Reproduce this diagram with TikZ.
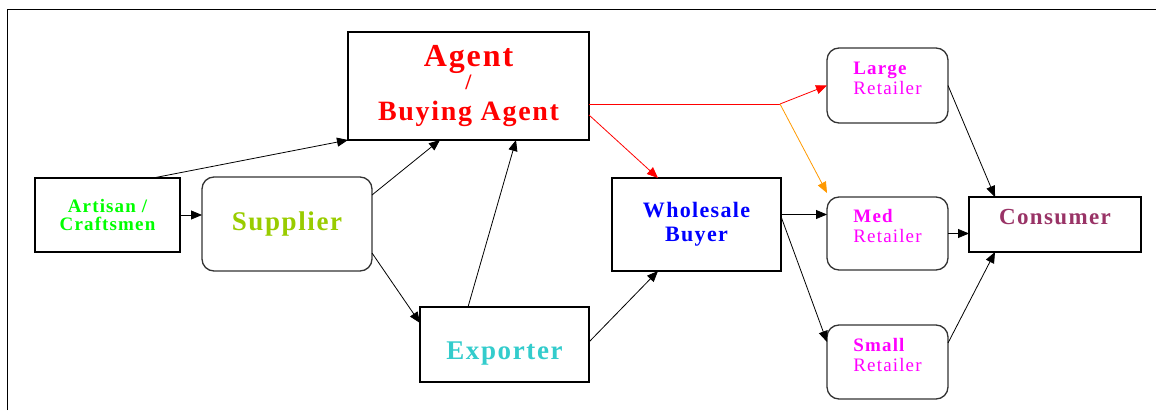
\documentclass[tikz,border=0pt]{standalone}
\usepackage{fontspec}
\setmainfont{Liberation Serif}
\newfontfamily\spaced[LetterSpace=6]{Liberation Serif}
\usetikzlibrary{arrows.meta}
\definecolor{artisangreen}{HTML}{00FF00}
\definecolor{suppliergreen}{HTML}{99CC00}
\definecolor{exportercyan}{HTML}{33CCCC}
\definecolor{retailpink}{HTML}{FF00FF}
\definecolor{consumerplum}{HTML}{993366}
\definecolor{splitorange}{HTML}{FF9900}
\tikzset{
  plainbox/.style={draw, line width=1.3pt, inner sep=0pt, outer sep=0pt, align=center},
  roundbox/.style={plainbox, draw=black!80, rounded corners=12pt},
  retailbox/.style={roundbox, minimum width=121, minimum height=74, text=retailpink, align=left,
    font=\spaced\fsz{19}{20}, text depth=15pt},
  flow/.style={-{Triangle[length=11pt,width=9pt]}, line width=0.8pt},
}
\newcommand{\fsz}[2]{\fontsize{#1}{#2}\selectfont}
\begin{document}
\begin{tikzpicture}[x=1pt,y=1pt]
\useasboundingbox (0,0) rectangle (1156,410);
\draw[line width=1pt] (7,0) -- (7,400) -- (1156,400);
\begin{scope}
\node[plainbox, line width=2pt, minimum width=241, minimum height=108, text=red, font=\spaced\bfseries] (agent) at (468.5,324)
  {\fsz{32}{25}Agent\\\fsz{22}{25}/\\[10pt]\fsz{28}{25}Buying Agent};
\node[plainbox, minimum width=145, minimum height=74, text=artisangreen, font=\spaced\fsz{19}{18}\bfseries] (artisan) at (107.5,195)
  {Artisan /\\Craftsmen};
\node[roundbox, minimum width=170, minimum height=94, text=suppliergreen, font=\spaced\fsz{27}{27}\bfseries] (supplier) at (287,186) {Supplier};
\node[plainbox, minimum width=169, minimum height=75, text=exportercyan, font=\spaced\fsz{27}{27}\bfseries, text height=29pt, text depth=0pt] (exporter) at (504.5,65.5) {Exporter};
\node[plainbox, minimum width=169, minimum height=93, text=blue, font=\spaced\fsz{22}{24}\bfseries] (wholesale) at (696.5,185.5)
  {Wholesale\\Buyer};
\node[retailbox, minimum height=75] (large) at (887.5,324.5) {\bfseries Large\\Retailer};
\node[retailbox, minimum height=73] (med) at (887.5,176.5) {\bfseries Med\\Retailer};
\node[retailbox] (small) at (887.5,48) {\bfseries Small\\Retailer};
\node[plainbox, minimum width=172, minimum height=55, text=consumerplum, font=\spaced\fsz{23}{23}\bfseries, text height=16pt, text depth=16pt] (consumer) at (1055,185.5) {Consumer};
\end{scope}
\begin{scope}
\coordinate (split) at (780,306);
\draw[flow] ([xshift=-27]artisan.north east) -- (agent.south west);
\draw[flow] (artisan.east) -- (artisan.east -| supplier.west);
\draw[flow] ([yshift=-18]supplier.north east) -- ([xshift=92]agent.south west);
\draw[flow] ([yshift=18]supplier.south east) -- ([yshift=-16]exporter.north west);
\draw[flow] ([xshift=48]exporter.north west) -- ([xshift=168]agent.south west);
\draw[flow] ([yshift=-35]exporter.north east) -- ([xshift=46]wholesale.south west);
\draw[flow, red] ([yshift=25]agent.south east) -- ([xshift=46]wholesale.north west);
\draw[red, line width=0.8pt] ([yshift=36]agent.south east) -- (split);
\draw[flow, red] (split) -- (large.west);
\draw[flow, splitorange] (split) -- ([yshift=4]med.north west);
\draw[flow] ([yshift=10]wholesale.east) -- ([yshift=10]wholesale.east -| med.west);
\draw[flow] ([yshift=8]wholesale.east) -- ([yshift=-17]small.north west);
\draw[flow] (large.east) -- ([xshift=26]consumer.north west);
\draw[flow] (med.east) -- (med.east -| consumer.west);
\draw[flow] ([yshift=19]small.east) -- ([xshift=26]consumer.south west);
\end{scope}
\end{tikzpicture}
\end{document}
